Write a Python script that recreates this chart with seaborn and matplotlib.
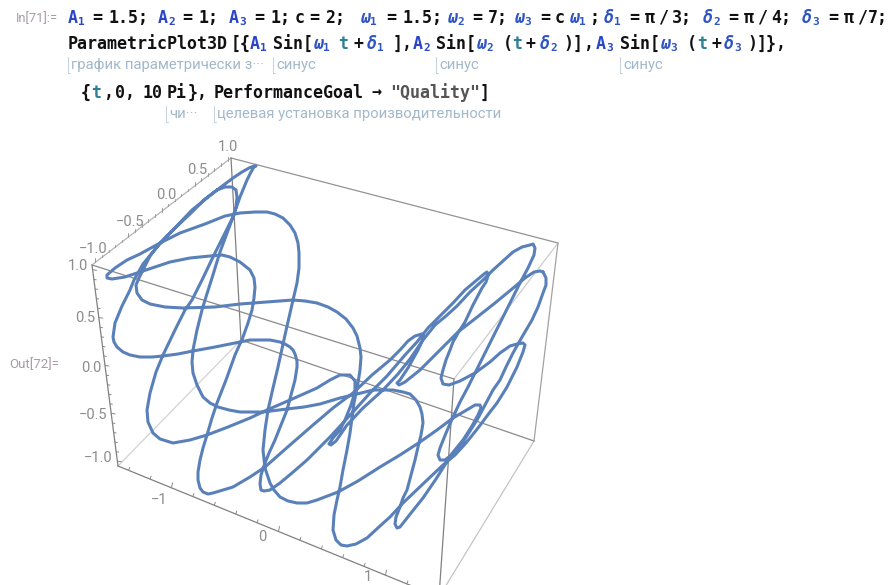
import pandas as pd
import seaborn as sns
import matplotlib.pyplot as plt

# curve, in picture pixels, followed strand by strand
curve_xy = [
    (543,272),(546,278),(546,285),(543,293),(538,307),(532,320),(522,337),(513,353),(506,367),(500,380),
    (493,390),(485,405),(477,420),(470,431),(463,442),(455,452),(448,460),(436,479),(423,498),(411,513),
    (400,527),(397,528),(395,524),(396,517),(400,507),(403,498),(407,490),(411,475),(415,460),(418,447),
    (421,435),(423,423),(422,414),(420,407),(416,400),(410,394),(403,392),(393,390),(380,390),(373,390),
    (357,394),(340,398),(320,404),(304,407),(287,409),(263,412),(240,412),(229,410),(218,407),(210,403),
    (203,397),(197,385),(193,373),(192,362),(193,350),(197,330),(202,310),(205,300),(212,278),(220,252),
    (233,217),(240,197),(247,180),(251,172),(254,167),(256,166),(254,166),(249,168),(242,172),(233,178),
    (217,190),(192,210),(172,231),(157,247),(143,264),(134,280),(130,290),(122,306),(115,323),(114,330),
    (113,337),(114,342),(117,347),(123,352),(130,355),(140,357),(152,357),(163,356),(178,354),(193,351),
    (215,347),(240,342),(250,340),(257,340),(270,340),(280,342),(285,344),(290,347),(293,350),(295,354),
    (297,361),(297,367),(295,380),(291,395),(287,410),(281,425),(275,440),(269,453),(265,463),(261,475),
    (260,484),(261,490),(264,491),(270,490),(280,483),(292,473),(307,460),(318,449),(330,437),(353,412),
    (370,393),(387,376),(405,355),(417,342),(428,328),(440,316),(453,303),(465,290),(478,279),(484,274),
    (487,272),(488,276),(486,282),(482,288),(473,305),(465,322),(458,333),(453,342),(450,350),(446,360),
    (443,370),(441,378),(443,384),(449,385),(460,381),(475,373),(490,362),(500,353),(510,346),(517,344),
    (523,343),(525,345),(523,352),(517,367),(507,387),(497,403),(490,412),(478,428),(466,443),(455,455),
    (443,465),(425,482),(403,503),(390,517),(380,526),(367,538),(356,544),(347,546),(341,545),(336,540),
    (333,530),(334,515),(337,500),(340,487),(343,470),(347,450),(350,433),(354,403),(358,383),(360,370),
    (361,357),(360,348),(357,336),(353,328),(346,319),(337,312),(328,307),(317,303),(305,301),(293,300),
    (267,302),(240,304),(215,307),(183,308),(165,307),(150,304),(142,300),(137,293),(136,285),(139,278),
    (143,270),(150,256),(160,243),(175,228),(190,214),(205,199),(217,190),(225,187),(232,187),(236,190),
    (237,197),(236,207),(233,217),(224,235),(213,257),(203,278),(192,300),(185,310),(175,330),(163,355),
    (156,372),(150,393),(147,410),(148,422),(153,433),(160,439),(173,443),(190,440),(207,435),(228,427),
    (250,418),(267,410),(290,400),(317,388),(330,380),(340,375),(350,375),(355,381),(355,392),(351,405),
    (345,420),(340,430),(333,438),(329,444),(331,445),(336,441),(347,425),(363,408),(383,390),(398,374),
    (410,359),(423,340),(435,325),(446,316),(457,306),(470,292),(482,281),(493,270),(503,261),(513,252),
    (522,247),(530,245),(533,244),(535,248),(534,255),(528,268),(520,283),(510,303),(500,323),(490,343),
    (480,363),(468,387),(460,402),(453,417),(446,433),(440,448),(438,455),(440,460),(445,460),(450,456),
    (463,440),(472,426),(478,415),(481,408),(480,405),(475,405),(465,411),(453,418),(437,430),(420,442),
    (400,455),(380,467),(358,481),(338,492),(317,500),(307,503),(297,503),(288,501),(280,497),(274,490),
    (270,483),(265,468),(263,450),(265,430),(268,410),(273,388),(278,367),(285,335),(293,300),(297,283),
    (299,268),(299,253),(298,243),(295,233),(290,225),(283,218),(275,214),(267,212),(255,212),(240,213),
    (225,216),(205,224),(180,233),(160,243),(140,254),(127,260),(115,268),(107,275),(107,278),(112,279),
    (125,277),(140,272),(170,262),(190,258),(210,256),(222,255),(230,257),(240,262),(250,270),(254,278),
    (255,287),(254,298),(252,310),(248,323),(243,337),(235,355),(226,380),(217,403),(212,418),(207,435),
    (203,448),(200,460),(198,472),(198,480),(200,488),(203,492),(208,494),(213,493),(233,487),(250,477),
    (265,467),(290,445),(313,425),(333,408),(353,393),(372,375),(390,360),(400,350),(408,341),(415,336),
    (422,334),(424,337),(418,350),(408,368),(400,380),(397,383),(399,385),(405,382),(420,370),(430,360),
    (442,348),(458,332),(476,318),(495,303),(512,289),(525,278),(534,272),(540,271),(543,272),
]
curve_x = [p[0] for p in curve_xy]
curve_y = [p[1] for p in curve_xy]

# box corners
A, B, C, D = (231,158), (92,265), (118,466), (558,243)
E, F, G, H = (454,379), (439,597), (534,441), (241,340)

x_ticks = [-1.4,-1.2,-1.0,-0.8,-0.6,-0.4,-0.2,0.0,0.2,0.4,0.6,0.8,1.0,1.2,1.4]
yz_ticks = [-1.0,-0.9,-0.8,-0.7,-0.6,-0.5,-0.4,-0.3,-0.2,-0.1,0.0,0.1,0.2,0.3,0.4,0.5,0.6,0.7,0.8,0.9,1.0]

x_labels = ['\u22121', '0', '1']
y_labels = ['\u22121.0', '\u22120.5', '0.0', '0.5', '1.0']
z_labels = ['\u22121.0', '\u22120.5', '0.0', '0.5', '1.0']

BLUE = '#2a45c8'
TEAL = '#2f7f95'
BLK = '#111111'
HINT = '#a3b9c9'
GREEK = '#2f55c4'

# (x, text, colour, subscript)
line1 = [
    (68,'A',BLUE,'1'),(92,'=',BLK,''),(108,'1.5;',BLK,''),(158,'A',BLUE,'2'),(182,'=',BLK,''),(198,'1;',BLK,''),
    (229,'A',BLUE,'3'),(254,'=',BLK,''),(270,'1;',BLK,''),(295,'c',BLK,''),(309,'=',BLK,''),(325,'2;',BLK,''),
    (360,'\u03c9',GREEK,'1'),(386,'=',BLK,''),(402,'1.5;',BLK,''),(447,'\u03c9',GREEK,'2'),(472,'=',BLK,''),(488,'7;',BLK,''),
    (514,'\u03c9',GREEK,'3'),(540,'=',BLK,''),(555,'c',BLK,''),(569,'\u03c9',GREEK,'1'),(590,';',BLK,''),
    (604,'\u03b4',GREEK,'1'),(629,'=',BLK,''),(645,'\u03c0',BLK,''),(658,'/',BLK,''),(672,'3;',BLK,''),
    (703,'\u03b4',GREEK,'2'),(728,'=',BLK,''),(744,'\u03c0',BLK,''),(757,'/',BLK,''),(771,'4;',BLK,''),
    (802,'\u03b4',GREEK,'3'),(828,'=',BLK,''),(844,'\u03c0',BLK,''),(857,'/',BLK,''),(868,'7;',BLK,''),
]
line2 = [
    (68,'ParametricPlot3D',BLK,''),(231,'[{',BLK,''),(250,'A',BLUE,'1'),(273,'Sin',BLK,''),(303,'[',BLK,''),
    (313,'\u03c9',GREEK,'1'),(338,'t',TEAL,''),(354,'+',BLK,''),(367,'\u03b4',GREEK,'1'),(393,'],',BLK,''),
    (413,'A',BLUE,'2'),(436,'Sin',BLK,''),(466,'[',BLK,''),(476,'\u03c9',GREEK,'2'),(503,'(',BLK,''),
    (512,'t',TEAL,''),(526,'+',BLK,''),(540,'\u03b4',GREEK,'2'),(563,')',BLK,''),(573,']',BLK,''),(583,',',BLK,''),
    (596,'A',BLUE,'3'),(620,'Sin',BLK,''),(650,'[',BLK,''),(660,'\u03c9',GREEK,'3'),(687,'(',BLK,''),
    (697,'t',TEAL,''),(711,'+',BLK,''),(724,'\u03b4',GREEK,'3'),(747,')',BLK,''),(757,']},',BLK,''),
]
line3 = [
    (81,'{',BLK,''),(91,'t',TEAL,''),(103,',',BLK,''),(115,'0,',BLK,''),(142,'10',BLK,''),(167,'Pi',BLK,''),
    (188,'},',BLK,''),(214,'PerformanceGoal',BLK,''),(371,'\u2192',BLK,''),(390,'"Quality"',"#555555",''),(480,']',BLK,''),
]
hints = [
    (68,65,'график параметрически з\u00b7\u00b7\u00b7'),(273,65,'синус'),(436,65,'синус'),(620,65,'синус'),
    (166,114,'чи\u00b7\u00b7\u00b7'),(214,114,'целевая установка производительности'),
]

sns.set_theme(style='white')
plt.rcParams['font.family'] = ['Roboto', 'DejaVu Sans']

fig, ax = plt.subplots(figsize=(8.89, 5.85), dpi=100)
fig.subplots_adjust(left=0, right=1, bottom=0, top=1)


def edge(p, q, color, lw=0.9):
    ax.plot([p[0], q[0]], [p[1], q[1]], color=color, lw=lw, solid_capstyle='round', zorder=1)


def on_edge(p, q, frac):
    return p[0] + (q[0] - p[0]) * frac, p[1] + (q[1] - p[1]) * frac


# box behind the curve
edge(H, C, '#d2d2d2')
edge(E, D, '#cccccc')
edge(G, F, '#c4c4c4')
edge(A, B, '#b4b4b4')
edge(A, D, '#939393')
edge(D, G, '#a2a2a2')
edge(A, H, '#808080')
edge(H, G, '#8a8a8a')
edge(B, E, '#8a8a8a')
edge(B, C, '#808080')
edge(C, F, '#808080')
edge(E, F, '#808080')

# ticks
for v in x_ticks:
    px, py = on_edge(C, F, (v + 1.5) / 3)
    n = 5 if v in (-1.0, 0.0, 1.0) else 3
    ax.plot([px, px + 1], [py, py - n], color='#8a8a8a', lw=0.7, zorder=1)
for v in yz_ticks:
    px, py = on_edge(B, A, (v + 1.05) / 2.1)
    n = 4 if round(v * 10) % 5 == 0 else 2.5
    ax.plot([px, px], [py, py - n], color='#9a9a9a', lw=0.7, zorder=1)
    px, py = on_edge(C, B, (v + 1.05) / 2.1)
    ax.plot([px, px + n], [py, py + 0.5], color='#8a8a8a', lw=0.7, zorder=1)

sns.lineplot(x=curve_x, y=curve_y, sort=False, estimator=None, color='#5a80ba', lw=2.2, ax=ax, zorder=3)
ax.lines[-1].set_solid_joinstyle('round')

ax.set_xlim(0, 889)
ax.set_ylim(585, 0)
ax.axis('off')


def tick_text(px, py, s):
    ax.text(px, py, s, ha='center', va='center', fontsize=10.5, color='#8c8c8c', zorder=4)


for (px, py), s in zip([(159, 500), (262, 537), (368, 577)], x_labels):
    tick_text(px, py, s)
for (px, py), s in zip([(93, 249), (130, 222), (166, 195), (197, 170), (228, 147)], y_labels):
    tick_text(px, py, s)
for (px, py), s in zip([(98, 458), (93, 415), (91, 368), (85, 318), (78, 266)], z_labels):
    tick_text(px, py, s)


def code_line(items, y):
    for px, s, col, sub in items:
        oblique = s in ('\u03c9', '\u03b4')
        ax.text(px, y, s, color=col, fontsize=12, fontweight='bold',
                family='DejaVu Sans Mono', style='oblique' if oblique else 'normal',
                ha='left', va='center')
        if sub:
            ax.text(px + 10, y + 4, sub, color=col, fontsize=8,
                    family='DejaVu Sans Mono', fontweight='bold', ha='left', va='center')


code_line(line1, 18)
code_line(line2, 44)
code_line(line3, 93)

for px, py, s in hints:
    ax.plot([px, px, px + 2], [py - 8, py + 8, py + 8], color='#c9d4dc', lw=0.8)
    ax.text(px + 3, py, s, color=HINT, fontsize=10.75, ha='left', va='center')

ax.text(16, 19, 'In[71]:=', color='#a89ba8', fontsize=9.3, ha='left', va='center')
ax.text(9, 365, 'Out[72]=', color='#a89ba8', fontsize=9.5, ha='left', va='center')

fig.savefig('out.png', dpi=100)
